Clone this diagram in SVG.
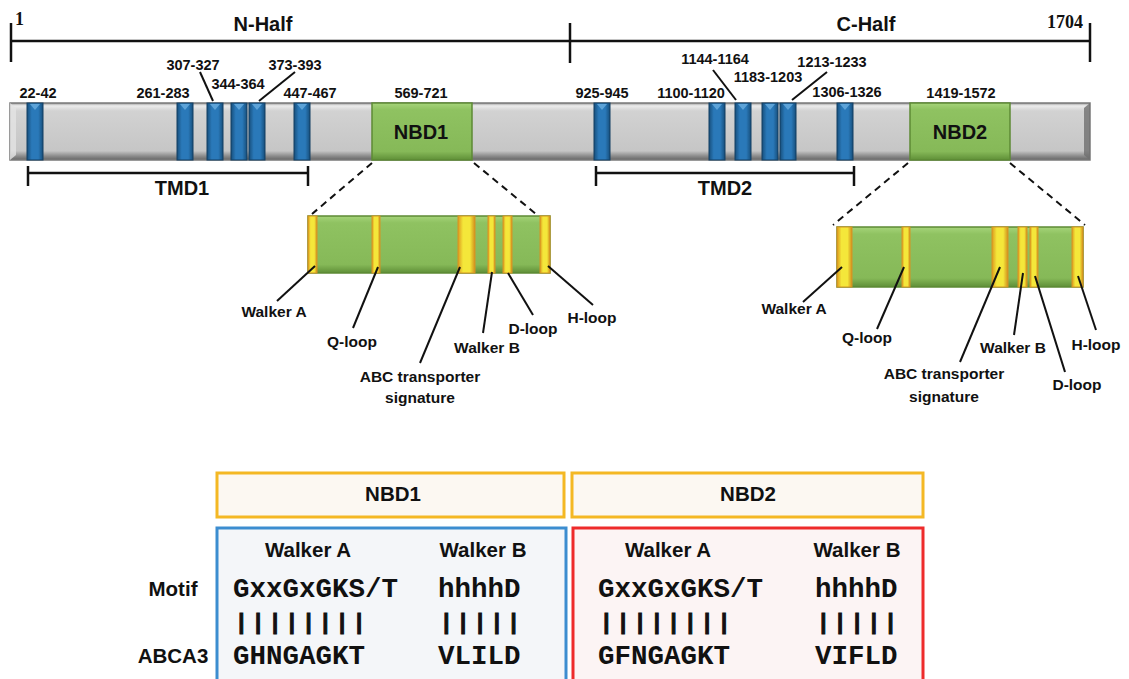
<svg xmlns="http://www.w3.org/2000/svg" width="1129" height="679" viewBox="0 0 1129 679">
<style>
text{font-family:"Liberation Sans",Arial,sans-serif;font-weight:bold;fill:#111}
.num{font-size:14.5px;text-anchor:middle}
.big{font-size:20px;text-anchor:middle}
.lbl{font-size:15.5px;text-anchor:middle}
.tbl{font-size:20.5px;text-anchor:middle}
.mono{font-family:"Liberation Mono","Courier New",monospace;font-size:27.5px}
.bars{font-size:22px;text-anchor:middle;stroke:#111;stroke-width:1}
.serif{font-family:"Liberation Serif","Times New Roman",serif;font-size:18px}
.ln{stroke:#111;stroke-width:2.5;fill:none}
.lead{stroke:#111;stroke-width:2;fill:none}
.dash{stroke:#111;stroke-width:2;stroke-dasharray:7 5;fill:none}
.nbd{fill:url(#gGreen);stroke:#5d8a35;stroke-width:1.5}
.stripe{fill:url(#gYel);stroke:#d89422;stroke-width:1}
</style>
<defs>
<linearGradient id="gBar" x1="0" y1="0" x2="0" y2="1">
<stop offset="0" stop-color="#9a9a9a"/><stop offset="0.05" stop-color="#ececec"/><stop offset="0.14" stop-color="#d2d2d2"/><stop offset="0.84" stop-color="#c6c6c6"/><stop offset="0.93" stop-color="#8c8c8c"/><stop offset="1" stop-color="#666"/>
</linearGradient>
<linearGradient id="gBlue" x1="0" y1="0" x2="1" y2="0">
<stop offset="0" stop-color="#174f7c"/><stop offset="0.3" stop-color="#2a79b9"/><stop offset="0.7" stop-color="#2a79b9"/><stop offset="1" stop-color="#174f7c"/>
</linearGradient>
<linearGradient id="gGreen" x1="0" y1="0" x2="0" y2="1">
<stop offset="0" stop-color="#a6d47a"/><stop offset="0.12" stop-color="#8fc261"/><stop offset="0.85" stop-color="#86b958"/><stop offset="1" stop-color="#5f8f37"/>
</linearGradient>
<linearGradient id="gYel" x1="0" y1="0" x2="1" y2="0">
<stop offset="0" stop-color="#dc9a1e"/><stop offset="0.3" stop-color="#f4e73a"/><stop offset="0.7" stop-color="#f4e73a"/><stop offset="1" stop-color="#d08e1c"/>
</linearGradient>
<g id="tmseg">
<rect x="0" y="103" width="16" height="57" fill="url(#gBlue)" stroke="#123f63" stroke-width="1"/>
<polygon points="3,104 13,104 8,110" fill="#6aaee0" opacity="0.8"/>
</g>
</defs>

<g id="scale">
<line class="ln" x1="11" y1="41" x2="1090" y2="41"/>
<line class="ln" x1="11" y1="23" x2="11" y2="62"/>
<line class="ln" x1="570" y1="23" x2="570" y2="63"/>
<line class="ln" x1="1090" y1="23" x2="1090" y2="62"/>
<text class="serif" x="15" y="25">1</text>
<text class="serif" x="1083" y="28" text-anchor="end">1704</text>
<text class="big" x="263" y="31">N-Half</text>
<text class="big" x="866" y="31">C-Half</text>
</g>

<g id="protein-bar">
<rect x="10" y="103" width="1080" height="57" fill="url(#gBar)" stroke="#7a7a7a" stroke-width="1.5"/>
<polygon points="10,103 16,108 16,155 10,160" fill="#e4e4e4" opacity="0.8"/>
<polygon points="1090,103 1084,108 1084,155 1090,160" fill="#6f6f6f" opacity="0.8"/>
</g>

<g id="tm-segments">
<use href="#tmseg" x="27"/>
<use href="#tmseg" x="177"/>
<use href="#tmseg" x="207"/>
<use href="#tmseg" x="231"/>
<use href="#tmseg" x="249"/>
<use href="#tmseg" x="294"/>
<use href="#tmseg" x="594"/>
<use href="#tmseg" x="709"/>
<use href="#tmseg" x="735"/>
<use href="#tmseg" x="762"/>
<use href="#tmseg" x="780"/>
<use href="#tmseg" x="837"/>
</g>

<g id="tm-labels">
<text class="num" x="38" y="98">22-42</text>
<text class="num" x="163" y="98">261-283</text>
<text class="num" x="193" y="70">307-327</text>
<text class="num" x="238" y="89">344-364</text>
<text class="num" x="295" y="70">373-393</text>
<text class="num" x="310" y="98">447-467</text>
<text class="num" x="421" y="98">569-721</text>
<text class="num" x="602" y="98">925-945</text>
<text class="num" x="691" y="98">1100-1120</text>
<text class="num" x="715" y="64">1144-1164</text>
<text class="num" x="768" y="82">1183-1203</text>
<text class="num" x="832" y="67">1213-1233</text>
<text class="num" x="847" y="97">1306-1326</text>
<text class="num" x="961" y="98">1419-1572</text>
</g>

<g id="NBD1">
<rect class="nbd" x="372" y="103" width="100" height="57"/>
<text class="big" x="421" y="139">NBD1</text>
</g>
<g id="NBD2">
<rect class="nbd" x="910" y="103" width="100" height="57"/>
<text class="big" x="960" y="139">NBD2</text>
</g>

<g id="TMD1">
<line class="ln" x1="28" y1="173" x2="308" y2="173"/>
<line class="ln" x1="28" y1="166" x2="28" y2="186"/>
<line class="ln" x1="308" y1="166" x2="308" y2="186"/>
<text class="big" x="182" y="195">TMD1</text>
</g>
<g id="TMD2">
<line class="ln" x1="596" y1="173" x2="854" y2="173"/>
<line class="ln" x1="596" y1="166" x2="596" y2="186"/>
<line class="ln" x1="854" y1="166" x2="854" y2="186"/>
<text class="big" x="725" y="195">TMD2</text>
</g>

<g id="NBD1-detail">
<rect class="nbd" x="308" y="216" width="242" height="57"/>
<rect class="stripe" x="308" y="216" width="9" height="57"/>
<rect class="stripe" x="372" y="216" width="8" height="57"/>
<rect class="stripe" x="458" y="216" width="17" height="57"/>
<rect class="stripe" x="488" y="216" width="7" height="57"/>
<rect class="stripe" x="503" y="216" width="9" height="57"/>
<rect class="stripe" x="540" y="216" width="10" height="57"/>
<text class="lbl" x="274" y="317">Walker A</text>
<text class="lbl" x="352" y="347">Q-loop</text>
<text class="lbl" x="420" y="382">ABC transporter</text>
<text class="lbl" x="420" y="403">signature</text>
<text class="lbl" x="487" y="353">Walker B</text>
<text class="lbl" x="533" y="334">D-loop</text>
<text class="lbl" x="592" y="323">H-loop</text>
</g>

<g id="NBD2-detail">
<rect class="nbd" x="837" y="227" width="246" height="60"/>
<rect class="stripe" x="837" y="227" width="15" height="60"/>
<rect class="stripe" x="902" y="227" width="8" height="60"/>
<rect class="stripe" x="992" y="227" width="16" height="60"/>
<rect class="stripe" x="1018" y="227" width="9" height="60"/>
<rect class="stripe" x="1030" y="227" width="8" height="60"/>
<rect class="stripe" x="1072" y="227" width="11" height="60"/>
<text class="lbl" x="794" y="314">Walker A</text>
<text class="lbl" x="867" y="343">Q-loop</text>
<text class="lbl" x="944" y="379">ABC transporter</text>
<text class="lbl" x="944" y="402">signature</text>
<text class="lbl" x="1013" y="353">Walker B</text>
<text class="lbl" x="1077" y="390">D-loop</text>
<text class="lbl" x="1096" y="350">H-loop</text>
</g>

<g id="connectors">
<line class="lead" x1="200" y1="72" x2="213" y2="101"/>
<line class="lead" x1="295" y1="72" x2="259" y2="101"/>
<line class="lead" x1="713" y1="70" x2="736" y2="100"/>
<line class="lead" x1="827" y1="72" x2="792" y2="100"/>
<line class="dash" x1="372" y1="163" x2="312" y2="214"/>
<line class="dash" x1="474" y1="163" x2="536" y2="214"/>
<line class="dash" x1="908" y1="163" x2="833" y2="225"/>
<line class="dash" x1="1010" y1="163" x2="1085" y2="225"/>
<line class="lead" x1="315" y1="266" x2="277" y2="301"/>
<line class="lead" x1="378" y1="267" x2="353" y2="328"/>
<line class="lead" x1="460" y1="267" x2="420" y2="363"/>
<line class="lead" x1="492" y1="272" x2="483" y2="333"/>
<line class="lead" x1="508" y1="273" x2="533" y2="315"/>
<line class="lead" x1="548" y1="266" x2="593" y2="305"/>
<line class="lead" x1="842" y1="267" x2="803" y2="302"/>
<line class="lead" x1="904" y1="267" x2="877" y2="329"/>
<line class="lead" x1="1000" y1="267" x2="960" y2="362"/>
<line class="lead" x1="1023" y1="273" x2="1014" y2="335"/>
<line class="lead" x1="1035" y1="276" x2="1065" y2="372"/>
<line class="lead" x1="1078" y1="276" x2="1096" y2="330"/>
</g>

<g id="table-rows">
<text class="tbl" x="173" y="596">Motif</text>
<text class="tbl" x="173" y="663">ABCA3</text>
</g>

<g id="table-NBD1">
<rect x="217" y="473" width="347" height="44" fill="#fcf8f2" stroke="#f4b824" stroke-width="3"/>
<text class="tbl" x="393" y="501">NBD1</text>
<rect x="217" y="528" width="349" height="165" fill="#f4f6f9" stroke="#3c8dd0" stroke-width="3"/>
<text class="tbl" x="308" y="557">Walker A</text>
<text class="tbl" x="483" y="557">Walker B</text>
<text class="mono" x="233" y="597">GxxGxGKS/T</text>
<text class="mono" x="438" y="597">hhhhD</text>
<text class="bars" x="241.4 258.2 275 291.8 308.6 325.4 342.2 359" y="629">||||||||</text>
<text class="bars" x="446.4 463.2 480 496.8 513.6" y="629">|||||</text>
<text class="mono" x="233" y="664">GHNGAGKT</text>
<text class="mono" x="438" y="664">VLILD</text>
</g>

<g id="table-NBD2">
<rect x="572" y="473" width="351" height="44" fill="#fcf8f2" stroke="#f4b824" stroke-width="3"/>
<text class="tbl" x="748" y="501">NBD2</text>
<rect x="573" y="528" width="350" height="165" fill="#fcf4f4" stroke="#ee2b2b" stroke-width="3"/>
<text class="tbl" x="668" y="557">Walker A</text>
<text class="tbl" x="857" y="557">Walker B</text>
<text class="mono" x="598" y="597">GxxGxGKS/T</text>
<text class="mono" x="815" y="597">hhhhD</text>
<text class="bars" x="606.4 623.2 640 656.8 673.6 690.4 707.2 724" y="629">||||||||</text>
<text class="bars" x="823.4 840.2 857 873.8 890.6" y="629">|||||</text>
<text class="mono" x="598" y="664">GFNGAGKT</text>
<text class="mono" x="815" y="664">VIFLD</text>
</g>
</svg>
